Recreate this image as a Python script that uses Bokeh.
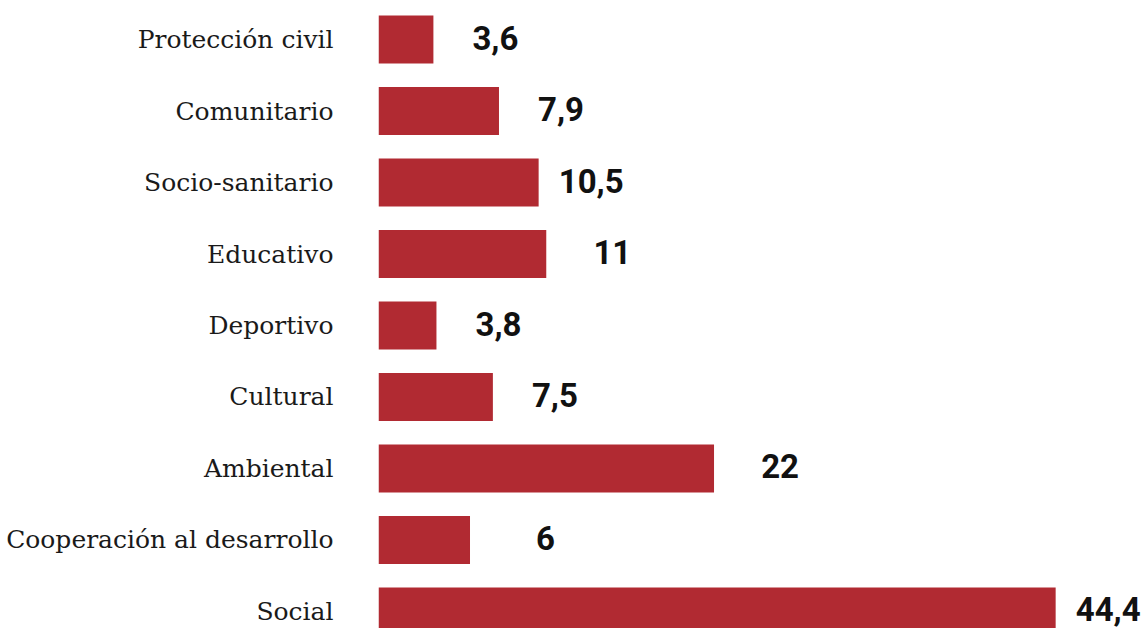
from bokeh.plotting import figure
from bokeh.models import ColumnDataSource, Range1d, FixedTicker
from bokeh.core.properties import value
from bokeh.embed import file_html
from bokeh.resources import INLINE

# Data (top to bottom as shown)
categories = ["Protección civil", "Comunitario", "Socio-sanitario", "Educativo",
              "Deportivo", "Cultural", "Ambiental", "Cooperación al desarrollo", "Social"]
values = [3.6, 7.9, 10.5, 11, 3.8, 7.5, 22, 6, 44.4]

n = len(categories)
pos = [n - 1 - i for i in range(n)]  # top category gets highest position

def fmt(v):
    return str(int(v)) if float(v).is_integer() else str(v).replace(".", ",")

labels = [fmt(v) for v in values]

src = ColumnDataSource(dict(y=pos, v=values, lab=labels, cat=categories))

p = figure(width=1143, height=628, output_backend="svg", toolbar_location=None,
           x_range=Range1d(0, 50.16), y_range=Range1d(-0.2378, n - 1 + 0.5455),
           min_border_left=378, min_border_right=0, min_border_top=0, min_border_bottom=0)

p.hbar(y="y", left=0, right="v", height=0.671, source=src,
       fill_color="#B12A32", line_color=None)

p.text(x="v", y="y", text="lab", source=src, x_offset=85, y_offset=-2, text_align="right",
       text_baseline="middle", text_font=value("Roboto"), text_font_style="bold",
       text_font_size="33px", text_color="#111111")

p.xaxis.visible = False
p.xgrid.visible = False
p.ygrid.visible = False
p.outline_line_color = None

ya = p.yaxis[0]
ya.ticker = FixedTicker(ticks=pos)
ya.major_label_overrides = {pp: c for pp, c in zip(pos, categories)}
ya.axis_line_color = None
ya.major_tick_line_color = None
ya.minor_tick_line_color = None
ya.major_tick_out = 0
ya.major_tick_in = 0
ya.major_label_standoff = 45
ya.major_label_text_font = "DejaVu Serif"
ya.major_label_text_font_size = "25px"
ya.major_label_text_color = "#1a1a1a"

open("out.html", "w").write(file_html(p, INLINE))
